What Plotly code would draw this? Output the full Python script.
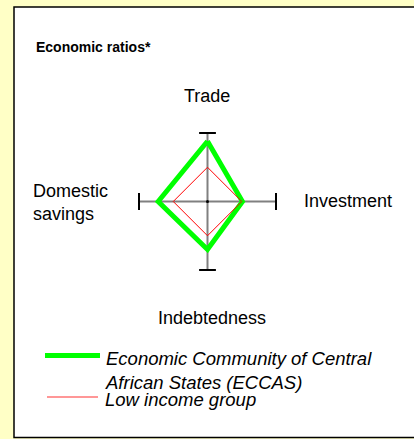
import plotly.graph_objects as go

W, H = 414, 439

# ---- data ----
axes_labels = ["Trade", "Investment", "Indebtedness", "Domestic savings"]
eccas_name = "Economic Community of Central African States (ECCAS)"
eccas_values = [0.88, 0.51, 0.70, 0.72]
low_income_name = "Low income group"
low_income_values = [0.50, 0.50, 0.50, 0.50]
title_text = "Economic ratios*"

FONT = "Arial, Liberation Sans, sans-serif"

def px(x):
    return x / W

def py(y):
    return 1 - y / H

fig = go.Figure()

# spokes (cross axes)
fig.add_trace(go.Scatterpolar(
    r=[1, 1], theta=[axes_labels[0], axes_labels[2]], mode="lines",
    line=dict(color="#808080", width=2), hoverinfo="skip", showlegend=False, cliponaxis=False))
fig.add_trace(go.Scatterpolar(
    r=[1, 1], theta=[axes_labels[1], axes_labels[3]], mode="lines",
    line=dict(color="#808080", width=2), hoverinfo="skip", showlegend=False, cliponaxis=False))

# series
fig.add_trace(go.Scatterpolar(
    r=eccas_values + eccas_values[:1], theta=axes_labels + axes_labels[:1],
    mode="lines", line=dict(color="#00FF00", width=5), name=eccas_name,
    showlegend=False, cliponaxis=False))
fig.add_trace(go.Scatterpolar(
    r=low_income_values + low_income_values[:1], theta=axes_labels + axes_labels[:1],
    mode="lines", line=dict(color="#FF0000", width=1), name=low_income_name,
    showlegend=False, cliponaxis=False))

# end caps and centre dot
fig.add_trace(go.Scatterpolar(
    r=[1, 1, 1, 1], theta=axes_labels, mode="markers",
    marker=dict(symbol=["line-ew", "line-ns", "line-ew", "line-ns"], size=12,
                line=dict(color="black", width=2)),
    hoverinfo="skip", showlegend=False, cliponaxis=False))
fig.add_trace(go.Scatterpolar(
    r=[0], theta=[axes_labels[0]], mode="markers",
    marker=dict(color="black", size=3), hoverinfo="skip", showlegend=False, cliponaxis=False))

cx, cy, R = 207.5, 201.5, 68.5
fig.update_layout(
    width=W, height=H,
    margin=dict(l=0, r=0, t=0, b=0),
    paper_bgcolor="#FFFFC6",
    plot_bgcolor="white",
    showlegend=False,
    polar=dict(
        domain=dict(x=[px(cx - R), px(cx + R)], y=[py(cy + R), py(cy - R)]),
        bgcolor="rgba(0,0,0,0)",
        radialaxis=dict(visible=False, range=[0, 1]),
        angularaxis=dict(type="category", categoryorder="array", categoryarray=axes_labels,
                         direction="clockwise", rotation=90,
                         showline=False, showgrid=False, showticklabels=False, ticks=""),
    ),
    shapes=[
        dict(type="rect", xref="paper", yref="paper", x0=px(14), x1=px(420), y0=py(437.5), y1=py(7),
             fillcolor="white", line=dict(color="black", width=1.5), layer="below"),
        dict(type="line", xref="paper", yref="paper", x0=px(45), x1=px(100), y0=py(355.5), y1=py(355.5),
             line=dict(color="#00FF00", width=5)),
        dict(type="line", xref="paper", yref="paper", x0=px(47), x1=px(98), y0=py(397), y1=py(397),
             line=dict(color="#FF3030", width=1.2)),
    ],
)

ann = []
ann.append(dict(text="<b>" + title_text + "</b>", x=px(34), y=py(47), xanchor="left", yanchor="middle",
                font=dict(family=FONT, size=14, color="black")))
ann.append(dict(text=axes_labels[0], x=px(207), y=py(96), xanchor="center", yanchor="middle",
                font=dict(family=FONT, size=18, color="black")))
ann.append(dict(text=axes_labels[1], x=px(302), y=py(201), xanchor="left", yanchor="middle",
                font=dict(family=FONT, size=18, color="black")))
ann.append(dict(text=axes_labels[2], x=px(212), y=py(318), xanchor="center", yanchor="middle",
                font=dict(family=FONT, size=18, color="black")))
ann.append(dict(text="Domestic<br>savings", x=px(31), y=py(202), xanchor="left", yanchor="middle",
                align="left", font=dict(family=FONT, size=18, color="black")))
ann.append(dict(text="<i>Economic Community of Central<br>African States (ECCAS)</i>", x=px(103), y=py(370.5),
                xanchor="left", yanchor="middle", align="left",
                font=dict(family=FONT, size=18.5, color="black")))
ann.append(dict(text="<i>" + low_income_name + "</i>", x=px(103), y=py(399), xanchor="left", yanchor="middle",
                font=dict(family=FONT, size=18.5, color="black")))
for a in ann:
    a.update(xref="paper", yref="paper", showarrow=False)
fig.update_layout(annotations=ann)

fig.write_html("out.html", config={"displayModeBar": False},
               post_script="document.body.style.margin='0';document.body.style.overflow='hidden';")
